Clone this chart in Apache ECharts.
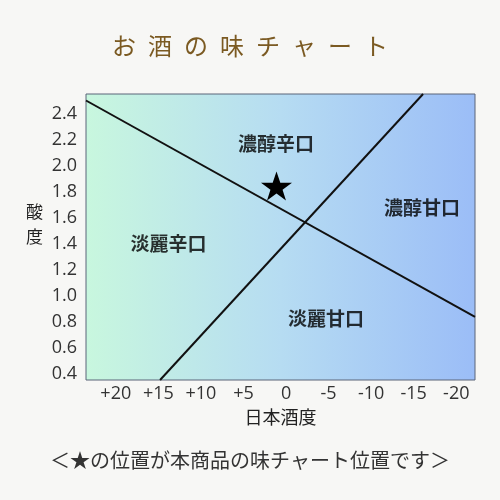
<!DOCTYPE html>
<html>
<head>
<meta charset="utf-8">
<script src="https://cdn.jsdelivr.net/npm/echarts@6/dist/echarts.min.js"></script>
<style>html,body{margin:0;padding:0;background:#f7f7f5;}#c{width:500px;height:500px;}</style>
</head>
<body>
<div id="c"></div>
<script>
// ---- data ----
const titleText = 'お酒の味チャート';
const footnote = '＜★の位置が本商品の味チャート位置です＞';
const xAxisName = '日本酒度';
const yAxisName = '酸度';
const xTicks = [20, 15, 10, 5, 0, -5, -10, -15, -20];
const yTicks = [0.4, 0.6, 0.8, 1.0, 1.2, 1.4, 1.6, 1.8, 2.0, 2.2, 2.4];
const lineA = [[23.5, 2.50], [-22.2, 0.835]];
const lineB = [[14.8, 0.35], [-16.1, 2.55]];
const regionNames = ['濃醇辛口', '濃醇甘口', '淡麗辛口', '淡麗甘口'];
const regionX = [1.18, -15.97, 13.81, -4.7];
const regionY = [2.165, 1.673, 1.396, 0.819];
const productPoint = [1.12, 1.842];

const chart = echarts.init(document.getElementById('c'), null, {renderer: 'canvas'});
const starPath = 'path://M50,0 L61.8,35.1 L98.1,35.1 L68.8,56.7 L79.4,90.9 L50,69.1 L20.6,90.9 L31.2,56.7 L1.9,35.1 L38.2,35.1 Z';
const sansFont = '"Open Sans", "Noto Sans CJK JP", sans-serif';
const cjk = '"Noto Sans CJK JP", sans-serif';

chart.setOption({
  backgroundColor: '#f7f7f5',
  animation: false,
  title: {
    text: titleText.split('').join('\u2002'),
    left: 'center', top: 29,
    textStyle: {color: '#7b5a22', fontFamily: cjk, fontSize: 24, fontWeight: 'normal'}
  },
  graphic: [{
    type: 'text', left: 'center', top: 450,
    style: {text: footnote, fill: '#333', font: '20px "Noto Sans CJK JP", sans-serif'}
  }],
  grid: {
    left: 86, right: 25, top: 94, bottom: 120,
    show: true,
    borderColor: '#5a6478', borderWidth: 1,
    backgroundColor: new echarts.graphic.LinearGradient(0, 0, 1, 0, [
      {offset: 0, color: '#c8f7de'},
      {offset: 0.5, color: '#b6dcf2'},
      {offset: 1, color: '#9bbdf7'}
    ])
  },
  xAxis: {
    type: 'value', min: -22.2, max: 23.5, inverse: true,
    name: xAxisName, nameLocation: 'middle', nameGap: 26,
    nameTextStyle: {color: '#222', fontFamily: cjk, fontSize: 18},
    axisLine: {show: false}, axisTick: {show: false}, splitLine: {show: false},
    axisLabel: {
      customValues: xTicks, margin: 5,
      color: '#333', fontFamily: sansFont, fontSize: 18,
      formatter: v => (v > 0 ? '+' + v : String(v))
    }
  },
  yAxis: {
    type: 'value', min: 0.35, max: 2.55,
    name: yAxisName.split('').join('\n') + '\n\u3000', nameLocation: 'middle', nameRotate: 0, nameGap: 43,
    nameTextStyle: {color: '#222', fontFamily: cjk, fontSize: 17, lineHeight: 25},
    axisLine: {show: false}, axisTick: {show: false}, splitLine: {show: false},
    axisLabel: {
      customValues: yTicks, margin: 9,
      color: '#333', fontFamily: sansFont, fontSize: 18,
      formatter: v => v.toFixed(1)
    }
  },
  series: [
    {type: 'line', data: lineA, symbol: 'none', lineStyle: {color: '#111', width: 2}, silent: true},
    {type: 'line', data: lineB, symbol: 'none', lineStyle: {color: '#111', width: 2}, silent: true},
    {
      type: 'scatter', symbol: 'circle', symbolSize: 1, silent: true,
      itemStyle: {color: 'rgba(0,0,0,0)'},
      data: regionNames.map((n, i) => ({name: n, value: [regionX[i], regionY[i]]})),
      label: {show: true, position: 'inside', formatter: p => p.name,
        color: '#000', fontFamily: cjk, fontSize: 19, fontWeight: 'bold'}
    },
    {
      type: 'scatter', symbol: starPath, symbolSize: [31, 29], silent: true,
      itemStyle: {color: '#000', opacity: 1},
      data: [productPoint]
    }
  ]
});
</script>
</body>
</html>
